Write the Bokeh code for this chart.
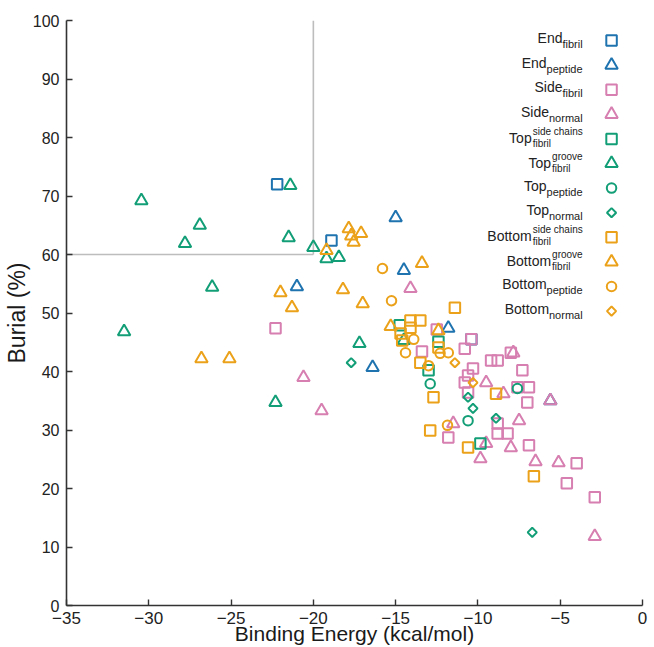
import math
from bokeh.plotting import figure
from bokeh.models import Range1d, FixedTicker, Label
from bokeh.embed import file_html
from bokeh.resources import INLINE

# ---------------- data ----------------
x_ticks = [-35, -30, -25, -20, -15, -10, -5, 0]
y_ticks = [0, 10, 20, 30, 40, 50, 60, 70, 80, 90, 100]
threshold_energy = -20
threshold_burial = 60

end_fibril_x = [-22.2, -18.9, -10.4]
end_fibril_y = [72.0, 62.4, 45.5]

end_peptide_x = [-21.0, -15.0, -14.5, -11.8, -16.4, -5.6]
end_peptide_y = [54.5, 66.3, 57.3, 47.4, 40.7, 35.0]

side_fibril_x = [-22.3, -12.5, -10.4, -10.8, -13.4, -10.3, -10.6, -10.8, -10.6, -9.2, -8.8, -8.0,
                 -7.3, -7.6, -6.9, -7.0, -8.8, -8.8, -8.2, -11.8, -6.9, -4.0, -4.6, -2.9]
side_fibril_y = [47.4, 47.2, 45.5, 43.9, 43.4, 40.5, 39.3, 38.1, 36.4, 41.9, 41.9, 43.2,
                 40.2, 37.3, 37.3, 34.7, 31.1, 29.4, 29.4, 28.7, 27.4, 24.3, 20.9, 18.5]

side_normal_x = [-14.1, -7.85, -9.5, -8.45, -5.6, -7.5, -11.5, -9.5, -8.0, -9.85, -6.5, -5.1, -2.9, -20.6, -19.5]
side_normal_y = [54.2, 43.2, 38.1, 36.2, 35.0, 31.6, 31.1, 27.7, 27.0, 25.1, 24.6, 24.4, 11.8, 39.0, 33.3]

top_sc_fibril_x = [-14.75, -13.0, -12.4, -9.85]
top_sc_fibril_y = [47.9, 40.2, 45.1, 27.7]

top_groove_fibril_x = [-21.4, -30.45, -26.9, -27.8, -21.5, -20.0, -19.2, -18.45, -26.15, -31.5, -22.3, -17.2, -14.5]
top_groove_fibril_y = [71.8, 69.2, 65.0, 61.9, 62.9, 61.2, 59.3, 59.5, 54.4, 46.8, 34.7, 44.8, 45.3]

top_peptide_x = [-12.9, -10.6, -7.6]
top_peptide_y = [37.9, 31.6, 37.1]

top_normal_x = [-17.7, -10.6, -10.3, -8.9, -6.7]
top_normal_y = [41.5, 35.6, 33.7, 32.0, 12.5]

bottom_sc_fibril_x = [-11.4, -14.1, -13.5, -14.1, -14.7, -14.6, -12.4, -13.5, -12.7, -12.9, -10.6, -8.9, -6.6]
bottom_sc_fibril_y = [50.9, 48.7, 48.7, 47.5, 46.5, 45.3, 44.1, 41.5, 35.6, 29.9, 27.0, 36.2, 22.1]

bottom_groove_fibril_x = [-19.2, -17.85, -17.1, -17.7, -17.55, -13.4, -18.2, -17.0, -22.0, -21.3, -25.1, -26.8, -15.3, -12.4]
bottom_groove_fibril_y = [60.7, 64.4, 63.6, 63.2, 62.1, 58.5, 54.0, 51.6, 53.5, 50.9, 42.2, 42.2, 47.7, 47.0]

bottom_peptide_x = [-15.8, -15.25, -13.9, -14.4, -13.0, -12.3, -11.8, -11.85]
bottom_peptide_y = [57.6, 52.1, 45.5, 43.2, 41.0, 43.1, 43.2, 30.8]

bottom_normal_x = [-11.4, -10.3]
bottom_normal_y = [41.5, 38.1]

# legend text: (main, superscript, subscript)
legend_labels = [
    ("End", None, "fibril"),
    ("End", None, "peptide"),
    ("Side", None, "fibril"),
    ("Side", None, "normal"),
    ("Top", "side chains", "fibril"),
    ("Top", "groove", "fibril"),
    ("Top", None, "peptide"),
    ("Top", None, "normal"),
    ("Bottom", "side chains", "fibril"),
    ("Bottom", "groove", "fibril"),
    ("Bottom", None, "peptide"),
    ("Bottom", None, "normal"),
]

x_title = "Binding Energy (kcal/mol)"
y_title = "Burial (%)"

# ---------------- styling ----------------
BLUE, PINK, GREEN, ORANGE = "#1f74b0", "#d67fb0", "#129e76", "#eba21a"
FONT = "Liberation Sans"

X_MIN, X_MAX, Y_MIN, Y_MAX = -35, 0, 0, 100
W, H = 650, 647
FRAME_L, FRAME_T, FRAME_W, FRAME_H = 65, 20, 577, 585
ppx = FRAME_W / (X_MAX - X_MIN)
ppy = FRAME_H / (Y_MAX - Y_MIN)


def dx(px):  # pixels from frame left -> data x
    return X_MIN + px / ppx


def dy(py):  # pixels from frame top -> data y
    return Y_MAX - py / ppy


ARIAL = {' ': 278, 'a': 556, 'b': 556, 'c': 500, 'd': 556, 'e': 556, 'f': 278, 'g': 556, 'h': 556,
         'i': 222, 'l': 222, 'm': 833, 'n': 556, 'o': 556, 'p': 556, 'r': 333, 's': 500, 't': 278,
         'v': 500, 'B': 667, 'E': 667, 'S': 667, 'T': 611}


def text_w(s, size):
    return sum(ARIAL.get(c, 556) for c in s) / 1000.0 * size


p = figure(width=W, height=H, output_backend="svg", toolbar_location=None,
           x_range=Range1d(X_MIN, X_MAX), y_range=Range1d(Y_MIN, Y_MAX),
           x_axis_label=x_title, y_axis_label=y_title,
           min_border_left=FRAME_L, min_border_top=FRAME_T,
           min_border_right=W - FRAME_L - FRAME_W, min_border_bottom=H - FRAME_T - FRAME_H)
p.outline_line_color = None
p.grid.visible = False
p.background_fill_color = "white"
p.border_fill_color = "white"

for ax, ticks, fs, so, tfs, tso in ((p.xaxis, x_ticks, "17px", 6, "21px", -5),
                                    (p.yaxis, y_ticks, "16px", 7, "23px", 0)):
    ax.ticker = FixedTicker(ticks=ticks)
    ax.major_tick_in = 6
    ax.major_tick_out = 0
    ax.minor_tick_line_color = None
    ax.axis_line_color = "#333333"
    ax.axis_line_width = 1.6
    ax.major_tick_line_color = "#333333"
    ax.major_tick_line_width = 1.4
    ax.major_label_text_font = FONT
    ax.major_label_text_font_size = fs
    ax.major_label_text_color = "#222222"
    ax.major_label_standoff = so
    ax.axis_label_text_font = FONT
    ax.axis_label_text_font_size = tfs
    ax.axis_label_text_font_style = "normal"
    ax.axis_label_text_color = "#1a1a1a"
    ax.axis_label_standoff = tso

# threshold lines
p.segment(x0=[X_MIN, threshold_energy], y0=[threshold_burial, threshold_burial],
          x1=[threshold_energy, threshold_energy], y1=[threshold_burial, Y_MAX],
          line_color="#bdbdbd", line_width=1.6)

SQ, TRI, CIR, DIA = 10.5, 12.5, 9.5, 6.5
series = [
    (end_fibril_x, end_fibril_y, "square", SQ, 0, BLUE),
    (end_peptide_x, end_peptide_y, "triangle", TRI, 0, BLUE),
    (side_fibril_x, side_fibril_y, "square", SQ, 0, PINK),
    (side_normal_x, side_normal_y, "triangle", TRI, 0, PINK),
    (top_sc_fibril_x, top_sc_fibril_y, "square", SQ, 0, GREEN),
    (top_groove_fibril_x, top_groove_fibril_y, "triangle", TRI, 0, GREEN),
    (top_peptide_x, top_peptide_y, "circle", CIR, 0, GREEN),
    (top_normal_x, top_normal_y, "square", DIA, math.pi / 4, GREEN),
    (bottom_sc_fibril_x, bottom_sc_fibril_y, "square", SQ, 0, ORANGE),
    (bottom_groove_fibril_x, bottom_groove_fibril_y, "triangle", TRI, 0, ORANGE),
    (bottom_peptide_x, bottom_peptide_y, "circle", CIR, 0, ORANGE),
    (bottom_normal_x, bottom_normal_y, "square", DIA, math.pi / 4, ORANGE),
]

for xs, ys, mk, sz, ang, col in series:
    p.scatter(x=xs, y=ys, marker=mk, size=sz, angle=ang, fill_color=None,
              line_color=col, line_width=2)

# ---------------- manual legend ----------------
ROW0, ROW_STEP = 20, 24.6
MARK_X = 546
TEXT_R = 517
MAIN_FS, SUB_FS, SS_FS = 14, 11, 10
for i, ((main, sup, sub), (_, _, mk, sz, ang, col)) in enumerate(zip(legend_labels, series)):
    ry = ROW0 + ROW_STEP * i
    p.scatter(x=[dx(MARK_X)], y=[dy(ry)], marker=mk, size=sz, angle=ang,
              fill_color=None, line_color=col, line_width=2)
    if sup is None:
        wsub = text_w(sub, SUB_FS)
        p.add_layout(Label(x=dx(TEXT_R), y=dy(ry + 3.5), text=sub, text_align="right",
                           text_baseline="middle", text_font=FONT,
                           text_font_size=f"{SUB_FS}px", text_color="#222222"))
        p.add_layout(Label(x=dx(TEXT_R - wsub), y=dy(ry - 2.5), text=main, text_align="right",
                           text_baseline="middle", text_font=FONT,
                           text_font_size=f"{MAIN_FS}px", text_color="#222222"))
    else:
        wss = max(text_w(sup, SS_FS), text_w(sub, SS_FS))
        start = TEXT_R - wss
        p.add_layout(Label(x=dx(start), y=dy(ry - 7.5), text=sup, text_align="left",
                           text_baseline="middle", text_font=FONT,
                           text_font_size=f"{SS_FS}px", text_color="#222222"))
        p.add_layout(Label(x=dx(start), y=dy(ry + 4.5), text=sub, text_align="left",
                           text_baseline="middle", text_font=FONT,
                           text_font_size=f"{SS_FS}px", text_color="#222222"))
        p.add_layout(Label(x=dx(start - 1), y=dy(ry - 1), text=main, text_align="right",
                           text_baseline="middle", text_font=FONT,
                           text_font_size=f"{MAIN_FS}px", text_color="#222222"))

open("out.html", "w").write(file_html(p, INLINE))
